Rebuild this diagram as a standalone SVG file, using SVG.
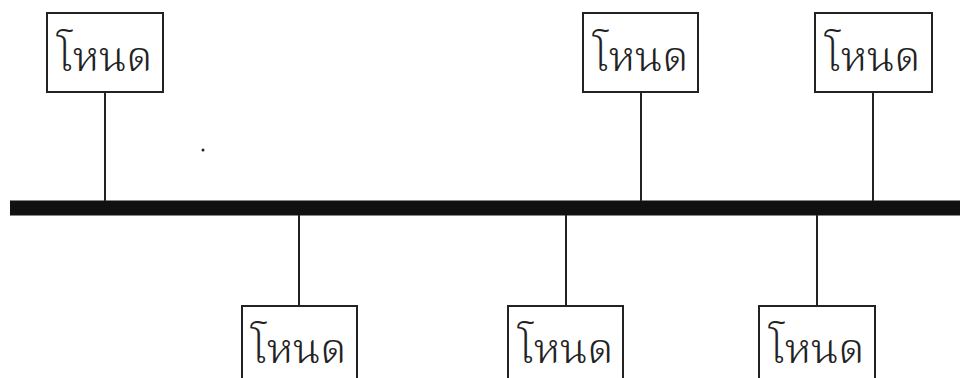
<svg xmlns="http://www.w3.org/2000/svg" width="960" height="378" viewBox="0 0 960 378">
  <style>
    .box { fill: #ffffff; stroke: #222222; stroke-width: 2; }
    .drop { stroke: #222222; stroke-width: 2; fill: none; }
    .label { font-family: "Norasi", "Noto Serif Thai", "Garuda", "Noto Sans Thai", "Liberation Serif", serif; font-size: 42px; font-weight: 300; fill: #222222; text-anchor: middle; }
  </style>
  <rect width="960" height="378" fill="#ffffff"/>

  <!-- shared bus and drop lines -->
  <g id="connectors">
    <rect id="bus" x="10" y="200.5" width="950" height="15" fill="#111111"/>
    <line class="drop" x1="105" y1="92" x2="105" y2="201"/>
    <line class="drop" x1="641" y1="92" x2="641" y2="201"/>
    <line class="drop" x1="873" y1="92" x2="873" y2="201"/>
    <line class="drop" x1="299" y1="215" x2="299" y2="306"/>
    <line class="drop" x1="566" y1="215" x2="566" y2="306"/>
    <line class="drop" x1="817" y1="215" x2="817" y2="306"/>
  </g>

  <!-- nodes above the bus -->
  <g id="node-top-1">
    <rect class="box" x="47" y="13" width="116" height="79"/>
    <text class="label" x="105" y="71">โหนด</text>
  </g>
  <g id="node-top-2">
    <rect class="box" x="583" y="13" width="115" height="79"/>
    <text class="label" x="641" y="71">โหนด</text>
  </g>
  <g id="node-top-3">
    <rect class="box" x="815" y="13" width="117" height="79"/>
    <text class="label" x="873" y="71">โหนด</text>
  </g>

  <!-- nodes below the bus -->
  <g id="node-bottom-1">
    <rect class="box" x="242" y="306" width="115" height="90"/>
    <text class="label" x="299" y="363">โหนด</text>
  </g>
  <g id="node-bottom-2">
    <rect class="box" x="508" y="306" width="115" height="90"/>
    <text class="label" x="566" y="363">โหนด</text>
  </g>
  <g id="node-bottom-3">
    <rect class="box" x="759" y="306" width="116" height="90"/>
    <text class="label" x="817" y="363">โหนด</text>
  </g>

  <!-- small speck above the bus -->
  <circle cx="203" cy="150" r="1.5" fill="#222222"/>
</svg>
